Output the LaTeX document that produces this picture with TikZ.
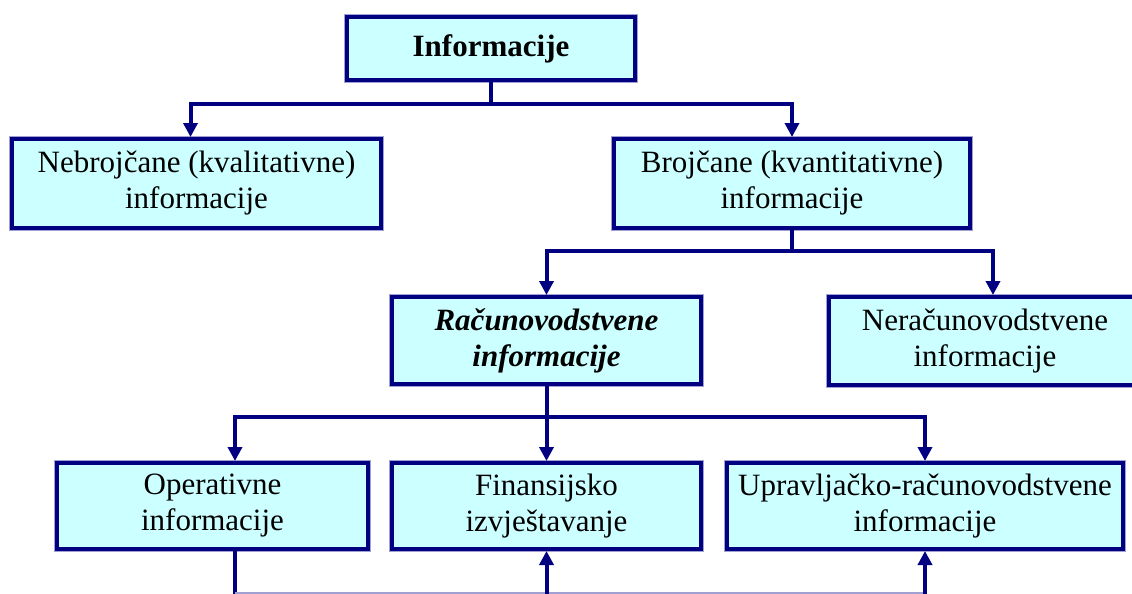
\documentclass[tikz,border=0pt]{standalone}
\usepackage{fontspec}
\setmainfont{Liberation Serif}
\usetikzlibrary{arrows.meta}
\definecolor{tamnoplava}{RGB}{0,0,128}
\definecolor{svijetla}{RGB}{204,255,255}
\definecolor{rub}{RGB}{160,160,210}
\tikzset{
  box/.style={draw=tamnoplava, line width=4pt, fill=svijetla, align=center, inner sep=0pt,
    font=\fontsize{31}{36}\selectfont, preaction={draw=rub, line width=6pt}},
  veza/.style={draw=tamnoplava, line width=4pt},
  strel/.style={veza, -{Triangle[length=14pt,width=14pt]}}
}
\begin{document}
\begin{tikzpicture}[x=1pt, y=-1pt]
	\useasboundingbox (0,0) rectangle (1132,594);
	% prvi red
	\node[box, minimum width=288pt, minimum height=63pt] (info) at (491,48.5) {\textbf{Informacije}};
	% drugi red
	\node[box, minimum width=369pt, minimum height=89pt] (nebroj) at (196.5,183.5) {Nebrojčane (kvalitativne)\\informacije};
	\node[box, minimum width=356pt, minimum height=89pt] (broj) at (792,183.5) {Brojčane (kvantitativne)\\informacije};
	% treci red
	\node[box, minimum width=309pt, minimum height=87pt] (racun) at (546.5,340.5) {\textbf{\textit{Računovodstvene}}\\\textbf{\textit{informacije}}};
	\node[box, minimum width=312pt, minimum height=88pt] (neracun) at (985,341) {Neračunovodstvene\\informacije};
	% cetvrti red
	\node[box, minimum width=311pt, minimum height=86pt] (oper) at (212.5,506) {Operativne\\informacije};
	\node[box, minimum width=309pt, minimum height=86pt] (finan) at (546.5,506) {Finansijsko\\izvještavanje};
	\node[box, minimum width=396pt, minimum height=86pt] (uprav) at (925,506) {Upravljačko-računovodstvene\\informacije};
	% veze
	\draw[veza] (info.south) -- ++(0,22) coordinate (r1);
	\draw[strel] (r1) -| ([xshift=-6pt]nebroj.north);
	\draw[strel] (r1) -| (broj.north);
	\draw[veza] (broj.south) -- ++(0,21) coordinate (r2);
	\draw[strel] (r2) -| (racun.north);
	\draw[strel] (r2) -| ([xshift=8pt]neracun.north);
	\draw[veza] (racun.south) -- ++(0,31) coordinate (r3);
	\draw[strel] (r3) -| ([xshift=22.5pt]oper.north);
	\draw[strel] (r3) -- (finan.north);
	\draw[strel] (r3) -| (uprav.north);
	% donja veza
	\coordinate (dno) at (235,593);
	\draw[veza] ([xshift=22.5pt]oper.south) -- ([yshift=-8pt]dno);
	\draw[rub, line width=2pt] (dno) -- (dno -| uprav.south);
	\draw[strel] ([yshift=-8pt]dno -| finan.south) -- (finan.south);
	\draw[strel] ([yshift=-8pt]dno -| uprav.south) -- (uprav.south);
\end{tikzpicture}
\end{document}
